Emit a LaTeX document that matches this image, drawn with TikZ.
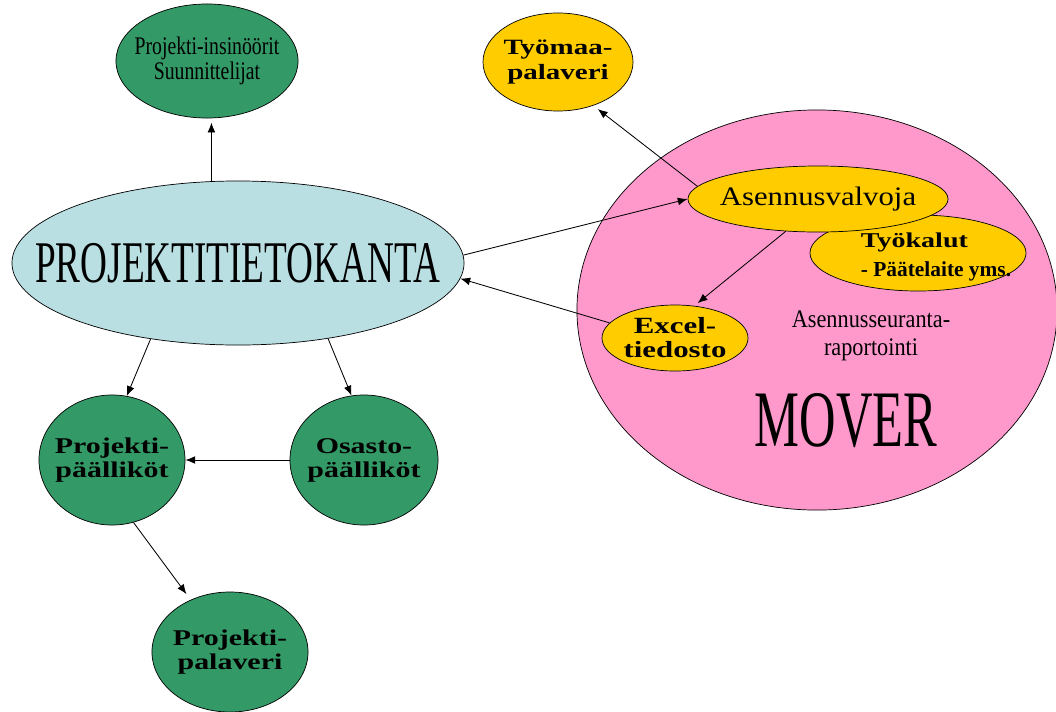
\documentclass[tikz,border=0pt]{standalone}
\usepackage{fontspec}
\setmainfont{Liberation Serif}
\newfontfamily\condfont[FakeStretch=0.63]{Liberation Serif}
\newfontfamily\narrowfont[FakeStretch=0.78]{Liberation Serif}
\newfontfamily\slimfont[FakeStretch=0.88]{Liberation Serif}
\newfontfamily\broadfont[FakeStretch=1.15]{Liberation Serif}
\newfontfamily\widefont[FakeStretch=1.33]{Liberation Serif Bold}
\newfontfamily\boldfont{Liberation Serif Bold}
\usetikzlibrary{arrows.meta, shapes.geometric}
\definecolor{dbgreen}{HTML}{339966}
\definecolor{dbblue}{HTML}{B9DFE3}
\definecolor{siteyellow}{HTML}{FFCC00}
\definecolor{moverpink}{HTML}{FF99CC}

\begin{document}
\begin{tikzpicture}[x=0.025cm, y=-0.025cm, >={Latex[length=7pt,width=5.5pt]},
    bubble/.style={ellipse, draw=black, line width=0.5pt, inner sep=0pt},
    greenbubble/.style={bubble, fill=dbgreen},
    yellowbubble/.style={bubble, fill=siteyellow},
    widelbl/.style={align=center, font=\widefont\fontsize{16}{17}\selectfont},
    conn/.style={->, line width=0.6pt}]
  \useasboundingbox (0,0) rectangle (1056,711);

  % MOVER
  \node[bubble, fill=moverpink, minimum width=12cm, minimum height=10cm] (mover) at (817,310) {};
  \node[align=center, font=\slimfont\fontsize{18}{20}\selectfont] (report) at (871,336)
    {Asennusseuranta-\\raportointi};
  \node[font=\condfont\fontsize{57}{60}\selectfont] (movertxt) at (846,421) {MOVER};
  \node[yellowbubble, minimum width=5.4cm, minimum height=1.9cm] (tools) at (918,253) {};
  \node[align=left, inner sep=0pt, font=\fontsize{15}{20}\selectfont] (toolstxt) at (936,257)
    {{\widefont Työkalut}\\[1pt]
     {\boldfont\fontsize{15.2}{20}\selectfont - Päätelaite yms.}};
  \node[yellowbubble, minimum width=6.5cm, minimum height=1.65cm,
    label={[font=\broadfont\fontsize{19}{22}\selectfont]center:Asennusvalvoja}] (asv) at (818,199) {};
  \node[yellowbubble, minimum width=3.65cm, minimum height=1.65cm,
    label={[widelbl, font=\widefont\fontsize{16.5}{17}\selectfont]center:Excel-\\tiedosto}] (excel) at (675,338) {};
  \node[yellowbubble, minimum width=3.75cm, minimum height=2.45cm,
    label={[widelbl, font=\widefont\fontsize{15.5}{18}\selectfont]center:Työmaa-\\palaveri}] (tyomaa) at (558,62) {};

  % projektitietokanta
  \node[bubble, fill=dbblue, minimum width=11.3cm, minimum height=4.1cm,
    label={[font=\condfont\fontsize{42}{46}\selectfont]center:PROJEKTITIETOKANTA}] (ptk) at (238,263) {};
  \node[greenbubble, minimum width=4.55cm, minimum height=2.85cm,
    label={[align=center, font=\narrowfont\fontsize{18}{18}\selectfont]center:Projekti-insinöörit\\Suunnittelijat}]
    (insin) at (207,61) {};
  \node[greenbubble, minimum width=3.65cm, minimum height=3.25cm,
    label={[widelbl]center:Projekti-\\päälliköt}] (projpaal) at (112,460) {};
  \node[greenbubble, minimum width=3.7cm, minimum height=3.25cm,
    label={[widelbl]center:Osasto-\\päälliköt}] (ospaal) at (364,460) {};
  \node[greenbubble, minimum width=3.9cm, minimum height=3cm,
    label={[widelbl]center:Projekti-\\palaveri}] (projpal) at (230,652) {};

  \draw[conn, shorten >=3pt] (ptk.108) -- (ptk.108 |- insin.south);
  \draw[conn] (ptk.2) -- (asv.west);
  \draw[conn, shorten >=4pt] (asv.174) -- (tyomaa.-51);
  \draw[conn, shorten >=3pt] (asv.225) -- (excel.59);
  \draw[conn] (excel.167) -- (ptk.-4);
  \draw[conn] (ptk.221) -- (projpaal.77);
  \draw[conn] (ptk.-40) -- (ospaal.101);
  \draw[conn] (ospaal.west) -- (projpaal.east);
  \draw[conn, shorten >=5pt] (projpaal.-71) -- (projpal.127);
\end{tikzpicture}
\end{document}
